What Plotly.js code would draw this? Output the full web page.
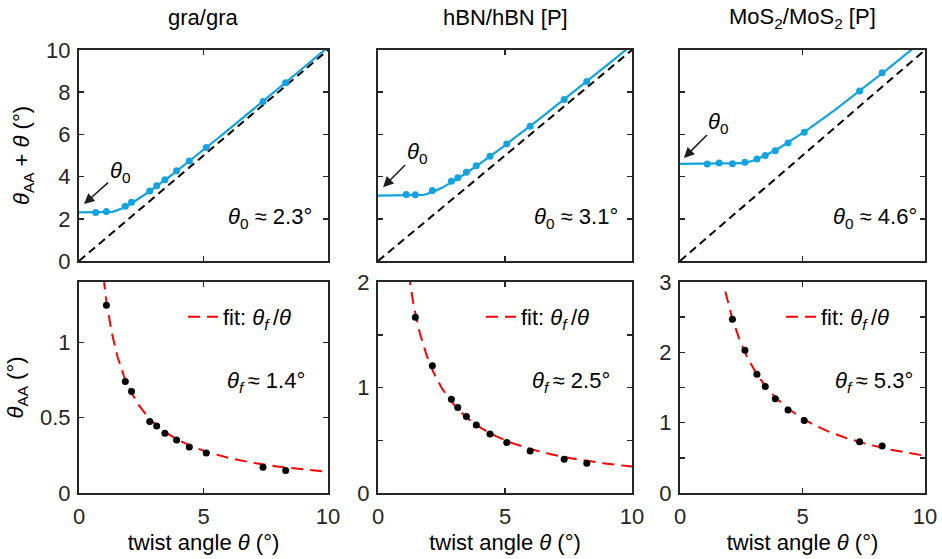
<!DOCTYPE html>
<html>
<head>
<meta charset="utf-8">
<script src="https://cdn.plot.ly/plotly-3.0.1.min.js"></script>
<style>
  html, body { margin: 0; padding: 0; background: #fff; }
  #chart { width: 942px; height: 559px; }
</style>
</head>
<body>
<div id="chart"></div>
<script>
// Panel titles
const panelTitles = ['gra/gra', 'hBN/hBN [P]', 'MoS<sub>2</sub>/MoS<sub>2</sub> [P]'];

// Measured twist angles θ (°) and AA-domain angles θ_AA (°)
const graTheta   = [0.67, 1.10, 1.86, 2.11, 2.84, 3.12, 3.45, 3.92, 4.43, 5.11, 7.39, 8.30];
const graThetaAA = [1.63, 1.245, 0.74, 0.674, 0.475, 0.444, 0.396, 0.352, 0.306, 0.265, 0.171, 0.149];

const hbnTheta   = [1.11, 1.47, 2.14, 2.89, 3.14, 3.48, 3.87, 4.41, 5.07, 5.99, 7.33, 8.22];
const hbnThetaAA = [2.04, 1.667, 1.206, 0.889, 0.81, 0.724, 0.644, 0.559, 0.479, 0.397, 0.321, 0.283];

const mosTheta   = [1.11, 1.60, 2.14, 2.65, 3.14, 3.48, 3.89, 4.41, 5.07, 7.33, 8.25];
const mosThetaAA = [3.49, 3.05, 2.47, 2.03, 1.69, 1.515, 1.34, 1.18, 1.03, 0.73, 0.67];

// Fitted parameters (°)
const theta0 = [2.3, 3.1, 4.6];
const thetaF = [1.4, 2.5, 5.3];
const fitStart = [0.9, 1.2, 1.85];

// Reference line θ_AA + θ = θ
const identity = [0, 10];

// Axis ranges / ticks
const bottomMax = [1.4, 2, 3];
const bottomTicks = [[0, 0.5, 1], [0, 0.5, 1, 1.5, 2], [0, 0.5, 1, 1.5, 2, 2.5, 3]];
const bottomTickText = [['0', '0.5', '1'], ['0', '', '1', '', '2'], ['0', '', '1', '', '2', '', '3']];
const topTicks = [0, 2, 4, 6, 8, 10];
const xTicks = [0, 5, 10];

const series = [
  { theta: graTheta, aa: graThetaAA },
  { theta: hbnTheta, aa: hbnThetaAA },
  { theta: mosTheta, aa: mosThetaAA }
];

const BLUE = '#12a3e0';
const AXC = '#262626';
const FONT = '"Liberation Sans", Arial, Helvetica, sans-serif';
const FS = 22;
const HAIR = '\u2009';

function grid(a, b, step) {
  const out = [];
  for (let v = a; v <= b + 1e-9; v += step) out.push(+v.toFixed(4));
  return out;
}

const traces = [];
series.forEach((s, i) => {
  const n = i + 1;
  const xt = n === 1 ? 'x' : 'x' + n;
  const yt = n === 1 ? 'y' : 'y' + n;
  const xb = 'x' + (n + 3);
  const yb = 'y' + (n + 3);

  // Upper panel: identity reference
  traces.push({
    x: identity, y: identity, xaxis: xt, yaxis: yt, mode: 'lines',
    line: { color: '#000', width: 2, dash: '8px,5px' }, showlegend: false, hoverinfo: 'skip'
  });
  // Upper panel: model curve, plateau θ0 then θ + θ0²/(4θ)
  const g = grid(0, 10, 0.02);
  const t0 = theta0[i];
  traces.push({
    x: g, y: g.map(t => t < t0 / 2 ? t0 : t + t0 * t0 / (4 * t)),
    xaxis: xt, yaxis: yt, mode: 'lines',
    line: { color: BLUE, width: 2.2 }, showlegend: false, hoverinfo: 'skip'
  });
  // Upper panel: data θ_AA + θ
  traces.push({
    x: s.theta, y: s.theta.map((t, k) => t + s.aa[k]),
    xaxis: xt, yaxis: yt, mode: 'markers',
    marker: { color: BLUE, size: 7 }, showlegend: false
  });

  // Lower panel: fit θf/θ
  const gf = grid(fitStart[i], 10, 0.02);
  traces.push({
    x: gf, y: gf.map(t => thetaF[i] / t),
    xaxis: xb, yaxis: yb, mode: 'lines',
    line: { color: '#ff0000', width: 2, dash: '12px,7px' },
    name: 'fit: <i>θ</i><sub><i>f</i></sub>' + HAIR + '/<i>θ</i>',
    showlegend: true, legend: n === 1 ? 'legend' : 'legend' + n, hoverinfo: 'skip'
  });
  // Lower panel: data θ_AA
  traces.push({
    x: s.theta, y: s.aa, xaxis: xb, yaxis: yb, mode: 'markers',
    marker: { color: '#000', size: 7 }, showlegend: false
  });
});

// Panel placement (paper fractions)
const colX = [[79, 328], [378, 632], [680, 925]].map(c => [c[0] / 942, c[1] / 942]);
const rowTop = [1 - 261 / 559, 1 - 50 / 559];
const rowBot = [1 - 493 / 559, 1 - 282 / 559];

function axisBase() {
  return {
    showline: true, mirror: 'ticks', linecolor: AXC, linewidth: 2,
    ticks: 'inside', ticklen: 5, tickwidth: 1.5, tickcolor: AXC,
    showgrid: false, zeroline: false, fixedrange: true,
    tickfont: { family: FONT, size: FS, color: AXC }
  };
}

const layout = {
  width: 942, height: 559,
  margin: { l: 0, r: 0, t: 0, b: 0 },
  paper_bgcolor: '#fff', plot_bgcolor: '#fff',
  font: { family: FONT, size: FS, color: '#000' },
  annotations: [],
  showlegend: true
};

for (let i = 0; i < 3; i++) {
  const n = i + 1;
  const xt = n === 1 ? 'xaxis' : 'xaxis' + n;
  const yt = n === 1 ? 'yaxis' : 'yaxis' + n;
  const xb = 'xaxis' + (n + 3);
  const yb = 'yaxis' + (n + 3);
  const xtId = n === 1 ? 'x' : 'x' + n;
  const ytId = n === 1 ? 'y' : 'y' + n;
  const xbId = 'x' + (n + 3);
  const ybId = 'y' + (n + 3);

  layout[xt] = Object.assign(axisBase(), {
    domain: colX[i], anchor: ytId, range: [0, 10], tickvals: xTicks, showticklabels: false
  });
  layout[yt] = Object.assign(axisBase(), {
    domain: rowTop, anchor: xtId, range: [0, 10], tickvals: topTicks, showticklabels: n === 1,
    ticklabelstandoff: 2
  });
  layout[xb] = Object.assign(axisBase(), {
    domain: colX[i], anchor: ybId, range: [0, 10], tickvals: xTicks, ticklabelstandoff: 3,
    title: { text: 'twist angle <i>θ</i> (°)', font: { family: FONT, size: FS, color: '#000' }, standoff: 6 }
  });
  layout[yb] = Object.assign(axisBase(), {
    domain: rowBot, anchor: xbId, range: [0, bottomMax[i]],
    tickvals: bottomTicks[i], ticktext: bottomTickText[i], ticklabelstandoff: 2
  });
  if (n === 1) {
    layout[yt].title = { text: '<i>θ</i><sub>AA</sub> + <i>θ</i> (°)', font: { family: FONT, size: FS, color: '#000' }, standoff: 10 };
    layout[yb].title = { text: '<i>θ</i><sub>AA</sub> (°)', font: { family: FONT, size: FS, color: '#000' }, standoff: 10 };
  }

  // Panel title
  layout.annotations.push({
    xref: 'paper', yref: 'paper', x: (colX[i][0] + colX[i][1]) / 2, y: 1 - 18 / 559,
    text: panelTitles[i], showarrow: false, xanchor: 'center', yanchor: 'middle',
    font: { family: FONT, size: FS, color: '#000' }
  });
}

// θ0 arrow labels (head, text position) and value labels
const arrowHead = [[0.2, 2.7], [0.2, 3.5], [0.16, 4.88]];
const arrowText = [[1.65, 4.22], [1.54, 5.12], [1.59, 6.54]];
const topLabelPos = [[7.67, 2.04], [7.80, 2.04], [7.96, 2.04]];
const botLabelPos = [[7.51, 0.737], [7.60, 1.052], [7.92, 1.58]];
const legendX = [183, 481, 781];

for (let i = 0; i < 3; i++) {
  const n = i + 1;
  const xtId = n === 1 ? 'x' : 'x' + n;
  const ytId = n === 1 ? 'y' : 'y' + n;
  layout.annotations.push({
    xref: xtId, yref: ytId, x: arrowHead[i][0], y: arrowHead[i][1],
    axref: xtId, ayref: ytId, ax: arrowText[i][0], ay: arrowText[i][1],
    text: '<i>θ</i><sub>0</sub>', showarrow: true, arrowhead: 2, arrowsize: 1.3,
    arrowwidth: 1.6, arrowcolor: '#231f20',
    font: { family: FONT, size: FS, color: '#000' }
  });
  layout.annotations.push({
    xref: xtId, yref: ytId, x: topLabelPos[i][0], y: topLabelPos[i][1],
    text: '<i>θ</i><sub>0</sub> ≈ ' + theta0[i].toFixed(1) + '°', showarrow: false,
    font: { family: FONT, size: FS, color: '#000' }
  });
  layout.annotations.push({
    xref: 'x' + (n + 3), yref: 'y' + (n + 3), x: botLabelPos[i][0], y: botLabelPos[i][1],
    text: '<i>θ</i><sub><i>f</i></sub>' + HAIR + '≈ ' + thetaF[i].toFixed(1) + '°', showarrow: false,
    font: { family: FONT, size: FS, color: '#000' }
  });
  const lg = n === 1 ? 'legend' : 'legend' + n;
  layout[lg] = {
    x: legendX[i] / 942, y: 1 - 317 / 559, xanchor: 'left', yanchor: 'middle',
    bgcolor: 'rgba(0,0,0,0)', borderwidth: 0,
    font: { family: FONT, size: FS, color: '#000' }
  };
}

Plotly.newPlot('chart', traces, layout, { displayModeBar: false, staticPlot: true });
</script>
</body>
</html>
